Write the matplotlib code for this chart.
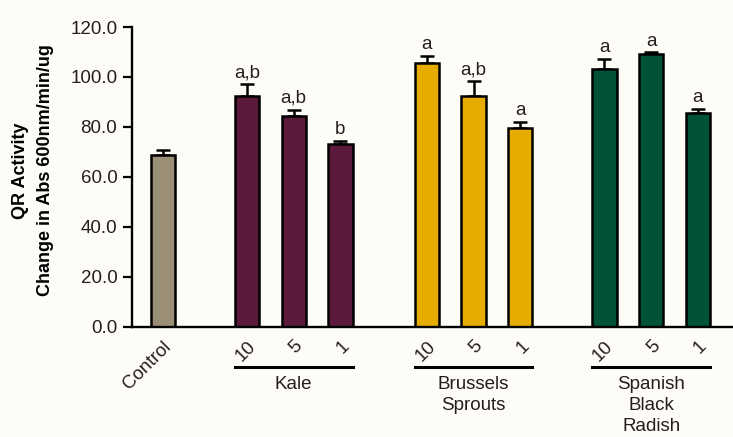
import matplotlib.pyplot as plt
import matplotlib.transforms as mtransforms
import numpy as np

plt.rcParams['font.family'] = ['Liberation Sans', 'DejaVu Sans']

# bar data
labels = ['Control', '10', '5', '1', '10', '5', '1', '10', '5', '1']
values = [68.7, 92.3, 84.5, 73.1, 105.5, 92.3, 79.6, 103.0, 109.3, 85.6]
errors = [2.0, 4.7, 2.4, 1.1, 3.0, 6.0, 2.4, 4.2, 0.5, 1.4]
letters = ['', 'a,b', 'a,b', 'b', 'a', 'a,b', 'a', 'a', 'a', 'a']
groups = ['Kale', 'Brussels\nSprouts', 'Spanish\nBlack\nRadish']

pos = np.array([0, 1.8, 2.8, 3.8, 5.65, 6.65, 7.65, 9.45, 10.45, 11.45])
colors = ['#9b8f77'] + ['#5b1a3b'] * 3 + ['#e6ad00'] * 3 + ['#005238'] * 3
bg = '#fdfcf6'
ink = '#231f20'
fs = 13.5

fig = plt.figure(figsize=(7.33, 4.37), dpi=100, facecolor=bg)
ax = fig.add_axes([0.18, 0.2524, 0.82, 0.6858])
ax.set_facecolor(bg)

w = 0.52
ax.bar(pos, values, width=w, color=colors, edgecolor='black', linewidth=1.8, zorder=3)
ax.errorbar(pos, values, yerr=[np.zeros(len(errors)), errors], fmt='none',
            ecolor='black', elinewidth=1.8, capsize=5, capthick=1.8, zorder=2)

for x, v, e, t in zip(pos, values, errors, letters):
    if t:
        ax.annotate(t, (x, v + e), xytext=(0, 5), textcoords='offset points',
                    ha='center', va='baseline', fontsize=fs, color=ink)

ax.set_ylim(0, 120)
ax.set_xlim(-0.66, 12.2)
ax.set_yticks(np.arange(0, 121, 20))
ax.set_yticklabels(['%.1f' % v for v in np.arange(0, 121, 20)], fontsize=fs, color=ink)
ax.tick_params(axis='y', direction='out', length=6.5, width=1.6, pad=4)

ax.set_xticks(pos)
ax.set_xticklabels(labels, rotation=45, ha='right', rotation_mode='anchor',
                   fontsize=fs, color=ink)
ax.tick_params(axis='x', length=0, pad=8)

for s in ['top', 'right']:
    ax.spines[s].set_visible(False)
for s in ['left', 'bottom']:
    ax.spines[s].set_linewidth(1.7)
ax.spines['bottom'].set_zorder(4)

# group underlines and names
tr = mtransforms.blended_transform_factory(ax.transData, fig.transFigure)
for g, (i0, i1) in zip(groups, [(1, 3), (4, 6), (7, 9)]):
    x0, x1 = pos[i0] - w / 2, pos[i1] + w / 2
    ax.plot([x0, x1], [0.160, 0.160], color='black', lw=2.2, transform=tr, clip_on=False)
    ax.text((x0 + x1) / 2, 0.139, g, transform=tr, ha='center', va='top',
            fontsize=fs, color=ink, linespacing=1.28)

fig.text(0.028, 0.61, 'QR Activity', rotation=90, ha='center', va='center',
         fontsize=13, fontweight='bold', color='black')
fig.text(0.062, 0.61, 'Change in Abs 600nm/min/ug', rotation=90, ha='center',
         va='center', fontsize=13, fontweight='bold', color='black')

fig.savefig('out.png', dpi=100, facecolor=bg)
